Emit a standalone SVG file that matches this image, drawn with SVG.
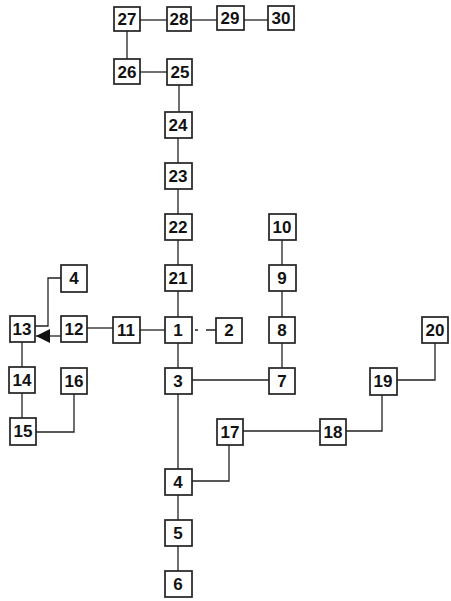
<svg xmlns="http://www.w3.org/2000/svg" width="451" height="601" viewBox="0 0 451 601">
<defs>
<style>
.b{fill:#fff;stroke:#222;stroke-width:1.7}
.t{font-family:"Liberation Sans",Arial,sans-serif;font-weight:bold;font-size:17px;fill:#111;text-anchor:middle;dominant-baseline:central}
.c{fill:none;stroke:#222;stroke-width:1.3}
</style>
<marker id="ar" viewBox="0 0 10 10" refX="10" refY="5" markerWidth="20" markerHeight="14" markerUnits="userSpaceOnUse" orient="auto"><path d="M0,0 L10,5 L0,10 Z" fill="#111"/></marker>
</defs>
<rect width="451" height="601" fill="#fff"/>
<g id="connectors">
<path class="c" d="M140,20 H167"/>
<path class="c" d="M191,20 H217"/>
<path class="c" d="M244,20 H268" stroke-width="2"/>
<path class="c" d="M127,31 V59"/>
<path class="c" d="M140,72 H167"/>
<path class="c" d="M179,85 V112"/>
<path class="c" d="M178,138 V163"/>
<path class="c" d="M178,189 V214"/>
<path class="c" d="M178,240 V265"/>
<path class="c" d="M178,291 V317"/>
<path class="c" d="M178,343 V368"/>
<path class="c" d="M178,394 V469"/>
<path class="c" d="M178,495 V520"/>
<path class="c" d="M178,546 V571"/>
<path class="c" d="M195,330 H216" stroke-dasharray="3 8 10"/>
<path class="c" d="M282,240 V265"/>
<path class="c" d="M282,291 V317"/>
<path class="c" d="M282,343 V368"/>
<path class="c" d="M191,380 H269"/>
<path class="c" d="M140,330 H165"/>
<path class="c" d="M87,328 H113"/>
<path class="c" d="M61,336 H36" marker-end="url(#ar)"/>
<path class="c" d="M61,278 H48 V326 H35"/>
<path class="c" d="M22,342 V367"/>
<path class="c" d="M22,393 V418"/>
<path class="c" d="M36,432 H74 V394"/>
<path class="c" d="M191,481 H229 V445"/>
<path class="c" d="M243,431 H320"/>
<path class="c" d="M346,431 H382 V395"/>
<path class="c" d="M397,380 H435 V343"/>
</g>
<g id="n27"><rect class="b" x="114" y="7" width="26" height="24"/><text class="t" x="127" y="19">27</text></g>
<g id="n28"><rect class="b" x="167" y="7" width="24" height="24"/><text class="t" x="179" y="19">28</text></g>
<g id="n29"><rect class="b" x="217" y="6" width="27" height="24"/><text class="t" x="230" y="18">29</text></g>
<g id="n30"><rect class="b" x="268" y="6" width="26" height="24"/><text class="t" x="281" y="18">30</text></g>
<g id="n26"><rect class="b" x="114" y="59" width="26" height="25"/><text class="t" x="127" y="72">26</text></g>
<g id="n25"><rect class="b" x="167" y="59" width="25" height="26"/><text class="t" x="180" y="72">25</text></g>
<g id="n24"><rect class="b" x="165" y="112" width="27" height="26"/><text class="t" x="178" y="125">24</text></g>
<g id="n23"><rect class="b" x="165" y="163" width="27" height="26"/><text class="t" x="178" y="176">23</text></g>
<g id="n22"><rect class="b" x="165" y="214" width="27" height="26"/><text class="t" x="178" y="227">22</text></g>
<g id="n21"><rect class="b" x="165" y="265" width="27" height="26"/><text class="t" x="178" y="278">21</text></g>
<g id="n1"><rect class="b" x="165" y="317" width="27" height="26"/><text class="t" x="178" y="330">1</text></g>
<g id="n2"><rect class="b" x="216" y="318" width="26" height="25"/><text class="t" x="229" y="330">2</text></g>
<g id="n3"><rect class="b" x="165" y="368" width="27" height="26"/><text class="t" x="178" y="381">3</text></g>
<g id="n4b"><rect class="b" x="165" y="469" width="27" height="26"/><text class="t" x="178" y="482">4</text></g>
<g id="n5"><rect class="b" x="165" y="520" width="27" height="26"/><text class="t" x="178" y="533">5</text></g>
<g id="n6"><rect class="b" x="165" y="571" width="27" height="26"/><text class="t" x="178" y="584">6</text></g>
<g id="n10"><rect class="b" x="269" y="214" width="27" height="26"/><text class="t" x="282" y="227">10</text></g>
<g id="n9"><rect class="b" x="269" y="265" width="27" height="26"/><text class="t" x="282" y="278">9</text></g>
<g id="n8"><rect class="b" x="269" y="317" width="26" height="26"/><text class="t" x="282" y="330">8</text></g>
<g id="n7"><rect class="b" x="269" y="368" width="26" height="26"/><text class="t" x="282" y="381">7</text></g>
<g id="n4a"><rect class="b" x="61" y="265" width="26" height="27"/><text class="t" x="74" y="278">4</text></g>
<g id="n13"><rect class="b" x="10" y="316" width="25" height="26"/><text class="t" x="22" y="329">13</text></g>
<g id="n12"><rect class="b" x="61" y="316" width="26" height="26"/><text class="t" x="74" y="329">12</text></g>
<g id="n11"><rect class="b" x="113" y="317" width="27" height="26"/><text class="t" x="126" y="330">11</text></g>
<g id="n14"><rect class="b" x="9" y="367" width="26" height="26"/><text class="t" x="22" y="380">14</text></g>
<g id="n16"><rect class="b" x="61" y="368" width="26" height="26"/><text class="t" x="74" y="381">16</text></g>
<g id="n15"><rect class="b" x="10" y="418" width="26" height="27"/><text class="t" x="23" y="431">15</text></g>
<g id="n17"><rect class="b" x="217" y="419" width="26" height="26"/><text class="t" x="230" y="432">17</text></g>
<g id="n18"><rect class="b" x="320" y="419" width="26" height="26"/><text class="t" x="333" y="432">18</text></g>
<g id="n19"><rect class="b" x="370" y="368" width="27" height="27"/><text class="t" x="383" y="381">19</text></g>
<g id="n20"><rect class="b" x="422" y="317" width="26" height="26"/><text class="t" x="435" y="330">20</text></g>
</svg>
